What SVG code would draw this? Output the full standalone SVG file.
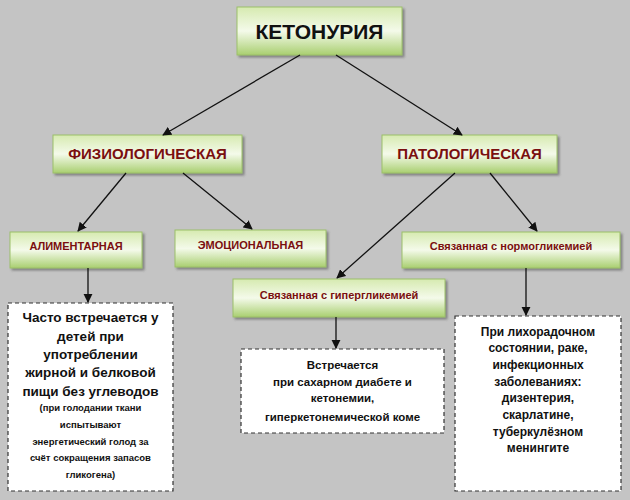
<svg xmlns="http://www.w3.org/2000/svg" width="630" height="500" viewBox="0 0 630 500">
<defs>
<linearGradient id="g" x1="0" y1="0" x2="0" y2="1"><stop offset="0" stop-color="#d6eab0"/><stop offset="0.5" stop-color="#f4faea"/><stop offset="1" stop-color="#a9cf70"/></linearGradient>
<marker id="a" viewBox="0 0 10 10" refX="9" refY="5" markerWidth="7" markerHeight="7" orient="auto-start-reverse"><path d="M0,0 L10,5 L0,10 z" fill="#111"/></marker>
<filter id="s" x="-10%" y="-10%" width="130%" height="140%"><feDropShadow dx="2" dy="2" stdDeviation="1.2" flood-color="#555" flood-opacity="0.6"/></filter>
</defs>
<style>
.bg{fill:#c4c4c4}
.g{fill:url(#g);stroke:#9cbf6a;stroke-width:1;filter:url(#s)}
.w{fill:#fff;stroke:#333;stroke-width:1.2;stroke-dasharray:4,3}
text{font-family:"Liberation Sans Narrow","Liberation Sans",Arial,sans-serif;font-weight:bold;text-anchor:middle}
.r{fill:#7a0f0f}
.k{fill:#111}
.c line{stroke:#111;stroke-width:1.3;marker-end:url(#a)}
</style>
<rect class="bg" width="630" height="500"/>
<g id="root"><rect class="g" x="237" y="7" width="165" height="48"/><text class="k" x="319.5" y="39" font-size="21">КЕТОНУРИЯ</text></g>
<g id="fiz"><rect class="g" x="53" y="135" width="189" height="38"/><text class="r" x="147.5" y="159" font-size="15">ФИЗИОЛОГИЧЕСКАЯ</text></g>
<g id="pat"><rect class="g" x="382" y="135" width="175" height="38"/><text class="r" x="469.5" y="159" font-size="15">ПАТОЛОГИЧЕСКАЯ</text></g>
<g id="alim"><rect class="g" x="10" y="232" width="132" height="36"/><text class="r" x="76" y="250" font-size="11">АЛИМЕНТАРНАЯ</text></g>
<g id="emo"><rect class="g" x="175" y="230" width="151" height="37"/><text class="r" x="250.5" y="249" font-size="11">ЭМОЦИОНАЛЬНАЯ</text></g>
<g id="norm"><rect class="g" x="402" y="232" width="218" height="36"/><text class="r" x="511" y="250" font-size="11">Связанная с нормогликемией</text></g>
<g id="hyper"><rect class="g" x="233" y="279" width="212" height="38"/><text class="r" x="339" y="299" font-size="11">Связанная с гипергликемией</text></g>
<g id="n1"><rect class="w" x="8" y="303" width="165" height="188"/>
<text class="k" font-size="13.5"><tspan x="90.5" y="322">Часто встречается у</tspan><tspan x="90.5" y="341">детей при</tspan><tspan x="90.5" y="359">употреблении</tspan><tspan x="90.5" y="377">жирной и белковой</tspan><tspan x="90.5" y="396">пищи без углеводов</tspan></text>
<text class="k" font-size="9.5"><tspan x="90.5" y="411">(при голодании ткани</tspan><tspan x="90.5" y="428">испытывают</tspan><tspan x="90.5" y="445">энергетический голод за</tspan><tspan x="90.5" y="461">счёт сокращения  запасов</tspan><tspan x="90.5" y="478">гликогена)</tspan></text></g>
<g id="n2"><rect class="w" x="241" y="349" width="203" height="84"/>
<text class="k" font-size="11.5"><tspan x="342.5" y="369">Встречается</tspan><tspan x="342.5" y="386">при сахарном диабете и</tspan><tspan x="342.5" y="402">кетонемии,</tspan><tspan x="342.5" y="421">гиперкетонемической коме</tspan></text></g>
<g id="n3"><rect class="w" x="455" y="316" width="166" height="175"/>
<text class="k" font-size="12"><tspan x="538" y="336">При лихорадочном</tspan><tspan x="538" y="352">состоянии, раке,</tspan><tspan x="538" y="369">инфекционных</tspan><tspan x="538" y="386">заболеваниях:</tspan><tspan x="538" y="402">дизентерия,</tspan><tspan x="538" y="419">скарлатине,</tspan><tspan x="538" y="436">туберкулёзном</tspan><tspan x="538" y="452">менингите</tspan></text></g>
<g class="c" id="connectors">
<line x1="300" y1="55" x2="163" y2="135"/>
<line x1="336" y1="55" x2="462" y2="135"/>
<line x1="126" y1="173" x2="78" y2="231"/>
<line x1="183" y1="173" x2="252" y2="229"/>
<line x1="455" y1="173" x2="337" y2="278"/>
<line x1="490" y1="173" x2="537" y2="231"/>
<line x1="88" y1="268" x2="88" y2="302"/>
<line x1="336" y1="317" x2="336" y2="348"/>
<line x1="526" y1="268" x2="526" y2="315"/>
</g>
</svg>
